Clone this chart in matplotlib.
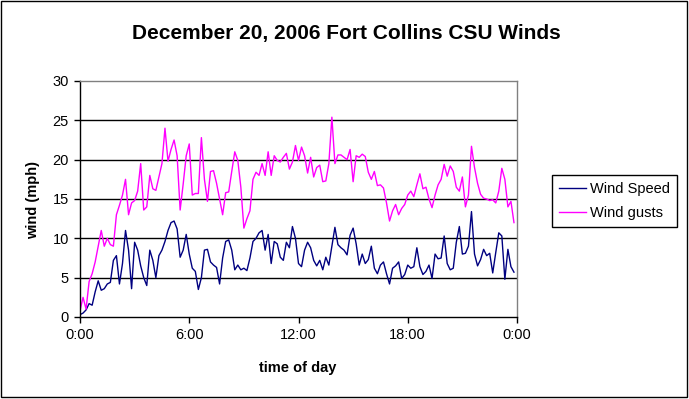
import numpy as np
import matplotlib
matplotlib.use('Agg')
import matplotlib.pyplot as plt
from matplotlib.patches import Rectangle

plt.rcParams['font.family'] = ['Liberation Sans', 'DejaVu Sans']

# 10-minute readings, 0:00 .. 23:50
wind_speed = [
    0.3, 0.5, 0.9, 1.7, 1.5, 3.2, 4.6, 3.4, 3.6, 4.2, 4.4, 7.2, 7.8, 4.2, 6.8, 11.0, 8.5, 3.6,
    9.5, 8.5, 6.5, 5.0, 4.0, 8.5, 7.2, 5.0, 7.8, 8.5, 9.6, 11.0, 12.0, 12.2, 11.2, 7.6, 8.5, 10.5,
    8.0, 6.2, 5.8, 3.5, 5.0, 8.5, 8.6, 7.0, 6.6, 6.3, 4.2, 7.5, 9.6, 9.8, 8.5, 6.0, 6.6, 6.0,
    6.2, 5.9, 7.5, 9.6, 10.0, 10.7, 11.0, 8.5, 10.5, 6.8, 9.6, 9.3, 7.6, 7.2, 9.5, 8.8, 11.5, 10.0,
    6.8, 6.4, 8.5, 9.5, 8.8, 7.2, 6.5, 7.2, 6.0, 7.6, 6.6, 9.0, 11.4, 9.2, 8.8, 8.5, 7.9, 10.4,
    11.3, 9.3, 6.6, 8.0, 6.8, 7.3, 9.0, 6.2, 5.5, 6.6, 7.0, 5.5, 4.2, 6.2, 6.5, 7.0, 4.9, 5.4,
    6.6, 6.2, 6.4, 8.8, 6.4, 5.4, 5.8, 6.6, 4.9, 8.0, 7.4, 7.5, 10.3, 6.8, 6.0, 6.2, 9.5, 11.5,
    8.0, 8.1, 9.0, 13.4, 8.0, 6.5, 7.3, 8.6, 7.8, 8.1, 5.6, 8.2, 10.7, 10.3, 4.8, 8.6, 6.4, 5.7,
]
wind_gusts = [
    0.8, 2.5, 1.0, 4.5, 5.5, 7.0, 9.0, 11.0, 9.0, 10.0, 9.2, 9.0, 13.0, 14.2, 15.5, 17.5, 13.0, 14.5,
    14.8, 16.0, 19.5, 13.6, 14.0, 18.0, 16.3, 16.1, 17.8, 19.5, 24.0, 19.8, 21.3, 22.5, 20.5, 13.6, 16.9, 20.5,
    22.0, 15.5, 15.7, 15.7, 22.8, 17.5, 14.7, 18.5, 18.6, 17.0, 15.0, 13.0, 15.8, 15.9, 18.5, 21.0, 19.9, 16.5,
    11.3, 12.5, 13.5, 17.5, 18.4, 18.0, 19.5, 18.0, 21.0, 18.0, 20.5, 19.9, 19.7, 20.3, 20.8, 18.8, 19.7, 21.8,
    19.9, 21.6, 20.5, 18.3, 20.3, 17.8, 19.0, 19.3, 17.2, 17.3, 19.5, 25.4, 19.5, 20.6, 20.6, 20.3, 20.0, 21.3,
    17.2, 20.5, 20.3, 20.7, 20.4, 18.4, 17.5, 18.5, 16.7, 16.8, 16.4, 14.5, 12.2, 13.5, 14.3, 13.0, 13.8, 14.3,
    15.5, 16.0, 15.3, 16.8, 18.2, 16.3, 16.5, 15.0, 13.9, 15.5, 16.8, 17.5, 19.4, 17.9, 19.2, 18.5, 16.5, 16.0,
    17.8, 14.0, 15.5, 21.7, 19.0, 17.0, 15.6, 15.1, 15.0, 14.8, 14.9, 14.5, 16.0, 18.9, 17.5, 14.0, 14.7, 12.0,
]
tick_hours = [0, 6, 12, 18, 24]
tick_labels = ['0:00', '6:00', '12:00', '18:00', '0:00']

hours = np.arange(len(wind_speed)) / 6.0

W, H = 689, 399
fig = plt.figure(figsize=(W / 100, H / 100), dpi=100)
ax = fig.add_axes([80 / W, 1 - 317 / H, 437 / W, 236 / H])

ax.plot(hours, wind_speed, color='#000080', lw=1.0, label='Wind Speed')
ax.plot(hours, wind_gusts, color='#FF00FF', lw=1.0, label='Wind gusts')

ax.set_xlim(0, 24)
ax.set_ylim(0, 30)
ax.set_xticks(tick_hours)
ax.set_xticklabels(tick_labels)
ax.set_yticks(range(0, 31, 5))
ax.tick_params(direction='out', length=4, width=1, color='black', labelsize=10.5, pad=4)

for v in range(5, 30, 5):
    ax.axhline(v, color='black', lw=1, zorder=0)

ax.spines['left'].set_color('black')
ax.spines['bottom'].set_color('black')
ax.spines['top'].set_color('#808080')
ax.spines['right'].set_color('#808080')
for s in ax.spines.values():
    s.set_linewidth(1)

fig.text(346 / W, 1 - 33 / H, 'December 20, 2006 Fort Collins CSU Winds',
         ha='center', va='center', fontsize=15, fontweight='bold')
fig.text(33 / W, 1 - 200 / H, 'wind (mph)', ha='center', va='center',
         rotation=90, fontsize=10.5, fontweight='bold')
fig.text(298 / W, 1 - 368 / H, 'time of day', ha='center', va='center',
         fontsize=10.5, fontweight='bold')

leg = fig.legend(loc='upper left', bbox_to_anchor=(552 / W, 1 - 175 / H),
                 fontsize=10.5, frameon=True, fancybox=False, framealpha=1,
                 edgecolor='black', borderpad=0.5, handlelength=1.8,
                 handletextpad=0.3, labelspacing=0.65, borderaxespad=0)
leg.get_frame().set_linewidth(1)

fig.patches.append(Rectangle((0.5 / W, 2.5 / H), 686 / W, 396 / H,
                             transform=fig.transFigure, fill=False,
                             edgecolor='black', lw=1))

fig.savefig('out.png', dpi=100)
